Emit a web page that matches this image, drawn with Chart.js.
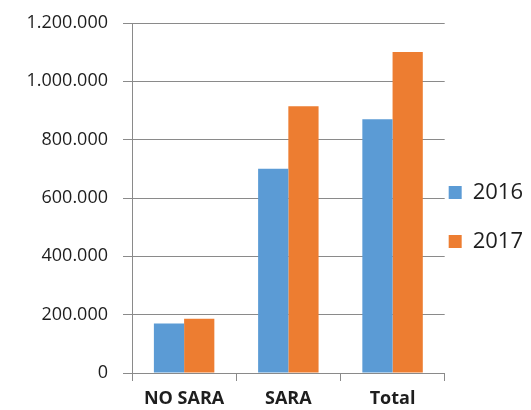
<!DOCTYPE html>
<html>
<head>
<meta charset="utf-8">
<script src="https://cdn.jsdelivr.net/npm/chart.js@4"></script>
<style>
  html, body { margin: 0; padding: 0; background: #fff; }
  .caixa { width: 531px; height: 410px; position: relative; }
</style>
</head>
<body>
<div class="caixa"><canvas id="grafico"></canvas></div>
<script>
// Dados
const categorias = ['NO SARA', 'SARA', 'Total'];
const anos = ['2016', '2017'];
const valores2016 = [170000, 700000, 870000];
const valores2017 = [186000, 915000, 1101000];
const ticksY = [0, 200000, 400000, 600000, 800000, 1000000, 1200000];

const cores = ['#5B9BD5', '#ED7D31'];
const corTexto = '#1e1e1e';
const corGrade = '#8a8a8a';

// Formata com ponto como separador de milhar
const formata = v => String(v).replace(/\B(?=(\d{3})+(?!\d))/g, '.');

new Chart(document.getElementById('grafico'), {
    type: 'bar',
    data: {
        labels: categorias,
        datasets: [
            { label: anos[0], data: valores2016, backgroundColor: cores[0] },
            { label: anos[1], data: valores2017, backgroundColor: cores[1] }
        ]
    },
    options: {
        responsive: true,
        maintainAspectRatio: false,
        animation: false,
        datasets: { bar: { categoryPercentage: 0.58, barPercentage: 1 } },
        layout: { padding: { top: 23, right: -2, bottom: 0, left: 0 } },
        plugins: {
            tooltip: { enabled: false },
            legend: {
                position: 'right',
                // título vazio só para ajustar a altura dos itens da legenda
                title: { display: true, text: '', padding: 6, font: { size: 10, lineHeight: 1.2 } },
                labels: {
                    boxWidth: 13,
                    boxHeight: 13,
                    padding: 4,
                    color: corTexto,
                    font: { family: 'Open Sans', size: 22, lineHeight: 2.05 },
                    // texto em lista: a altura do item passa a usar lineHeight
                    generateLabels: chart => Chart.defaults.plugins.legend.labels.generateLabels(chart)
                        .map(item => ({ ...item, text: [item.text] }))
                }
            }
        },
        scales: {
            x: {
                afterFit: scale => { scale.height = 37; },
                grid: { display: true, offset: true, drawOnChartArea: false, color: corGrade, tickLength: 8 },
                border: { color: corGrade },
                ticks: {
                    color: corTexto,
                    padding: 9,
                    font: { family: 'Open Sans', size: 18, weight: 'bold', lineHeight: 1 }
                }
            },
            y: {
                min: 0,
                max: 1200000,
                afterBuildTicks: scale => { scale.ticks = ticksY.map(v => ({ value: v })); },
                afterFit: scale => { scale.width = 132; scale.paddingTop = 0; },
                grid: { color: corGrade, tickLength: 9 },
                border: { color: corGrade },
                ticks: {
                    color: corTexto,
                    padding: 15,
                    font: { family: 'Open Sans', size: 18 },
                    callback: v => formata(v)
                }
            }
        }
    }
});
</script>
</body>
</html>
